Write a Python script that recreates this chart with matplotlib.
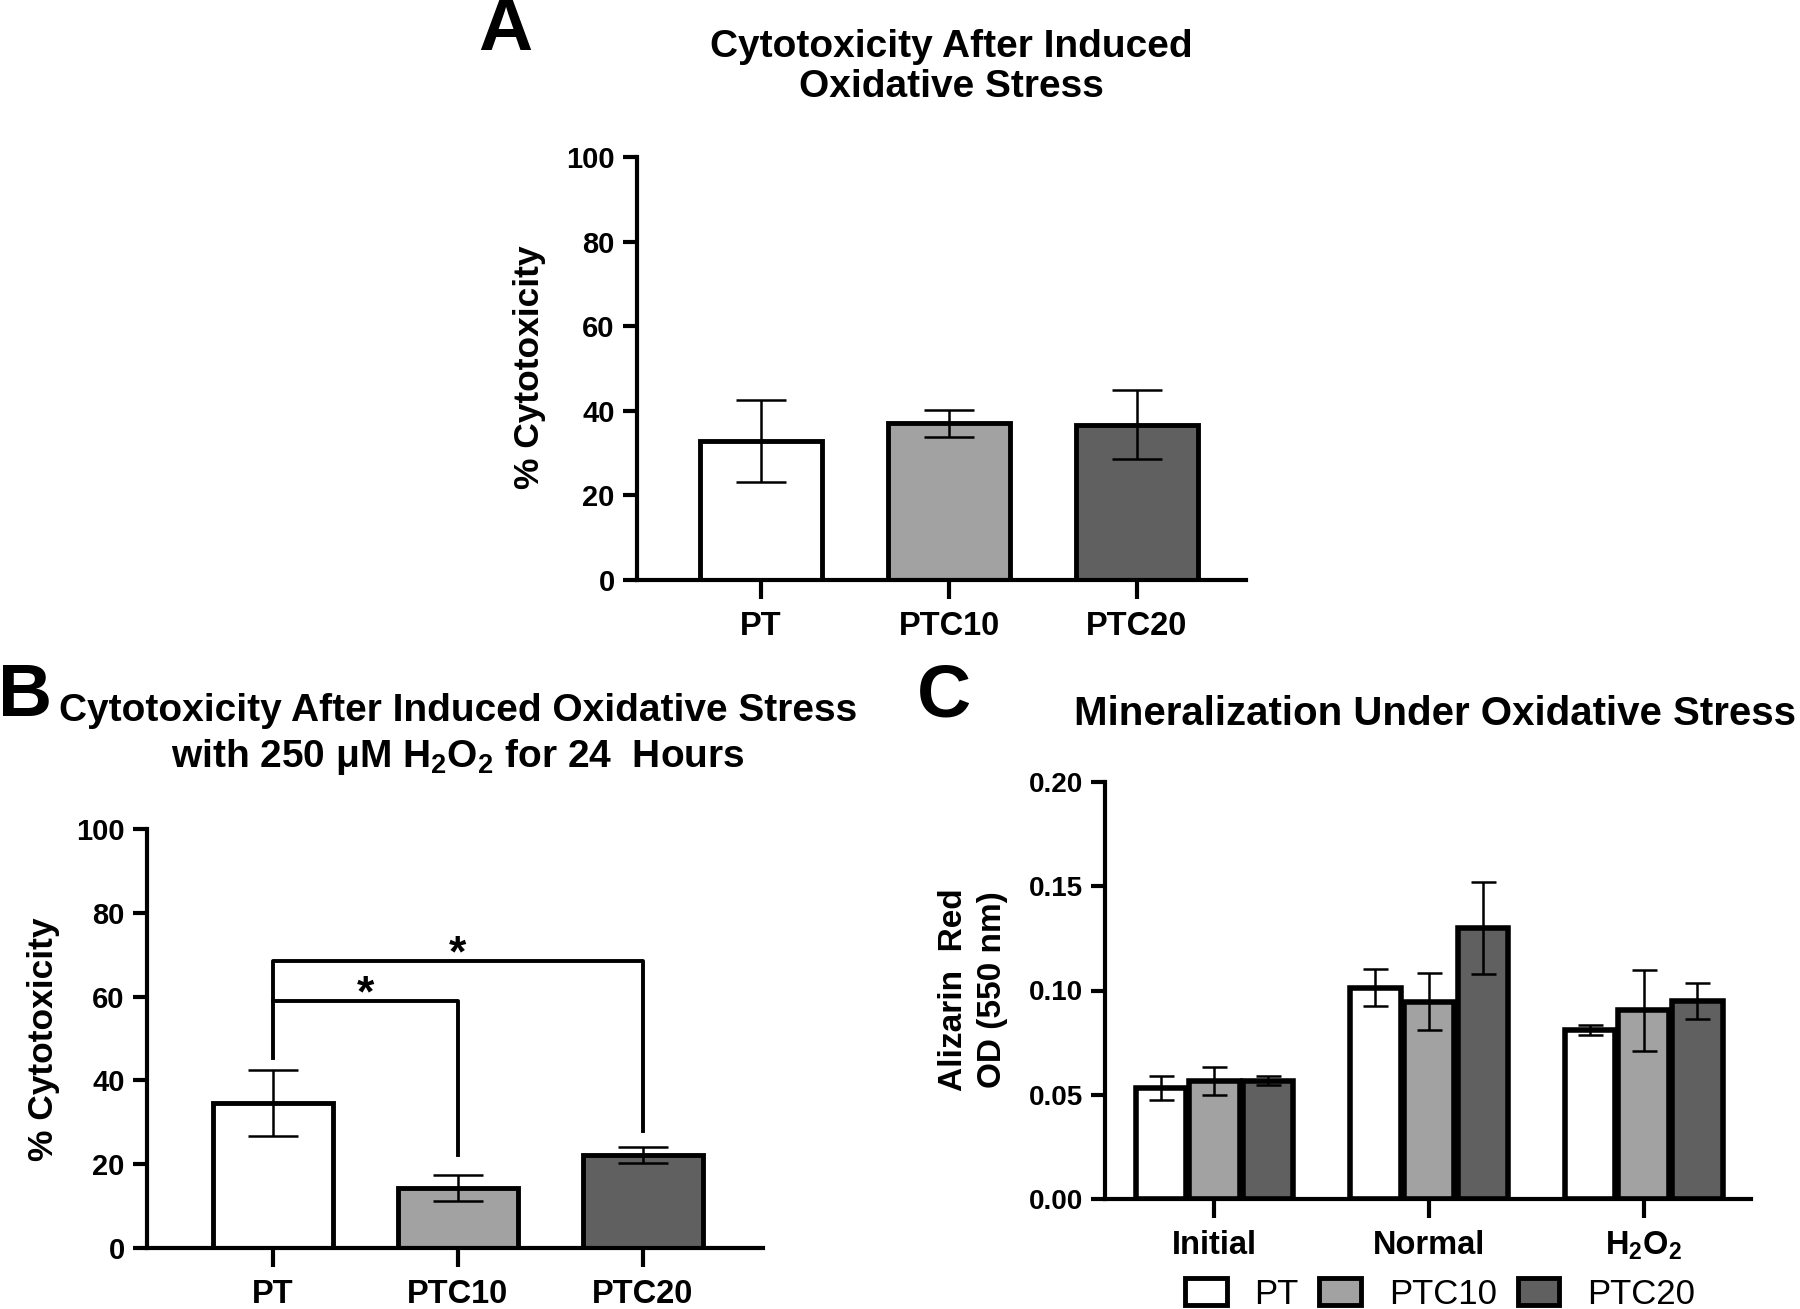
import numpy as np
import matplotlib
matplotlib.use("Agg")
import matplotlib.pyplot as plt
from matplotlib.patches import Patch

# data
groups = ["PT", "PTC10", "PTC20"]
colors = ["white", "#a2a2a2", "#606060"]

cyto_a = [32.8, 37.0, 36.7]
cyto_a_err = [9.7, 3.1, 8.1]

cyto_b = [34.6, 14.3, 22.1]
cyto_b_err = [7.8, 3.2, 1.9]

min_cats = ["Initial", "Normal", r"H$_\mathbf{2}$O$_\mathbf{2}$"]
min_pt = [0.0534, 0.1013, 0.0810]
min_pt_err = [0.0058, 0.0089, 0.0023]
min_ptc10 = [0.0568, 0.0947, 0.0905]
min_ptc10_err = [0.0067, 0.0137, 0.0193]
min_ptc20 = [0.0568, 0.1300, 0.0950]
min_ptc20_err = [0.0022, 0.0220, 0.0085]

fam = ["Liberation Sans", "DejaVu Sans"]
plt.rcParams["font.family"] = fam
plt.rcParams["font.weight"] = "bold"
plt.rcParams["mathtext.fontset"] = "custom"
plt.rcParams["mathtext.rm"] = "Liberation Sans:bold"
plt.rcParams["mathtext.bf"] = "Liberation Sans:bold"

W, H = 1800, 1309
fig = plt.figure(figsize=(W / 100, H / 100), dpi=100)


def px_axes(x0, x1, y0, y1):
    # pixel box (top-left origin) -> figure fraction
    return fig.add_axes([x0 / W, 1 - y1 / H, (x1 - x0) / W, (y1 - y0) / H])


def style(ax, ysize=21):
    for s in ["top", "right"]:
        ax.spines[s].set_visible(False)
    for s in ["left", "bottom"]:
        ax.spines[s].set_linewidth(3)
    ax.tick_params(width=3, length=10, labelsize=ysize, pad=6)
    ax.tick_params(axis="x", length=14, pad=8, labelsize=23.5)
    for lb in ax.get_xticklabels() + ax.get_yticklabels():
        lb.set_fontweight("bold")


ekw = dict(elinewidth=1.8, capthick=1.8, capsize=18, ecolor="black")

# ---- panel A
axA = px_axes(637, 1246, 157, 580)
x = np.arange(3)
axA.bar(x, cyto_a, width=0.65, color=colors, edgecolor="black", linewidth=3.5, zorder=2)
axA.errorbar(x, cyto_a, yerr=cyto_a_err, fmt="none", zorder=3, **ekw)
axA.set_xlim(-0.66, 2.58)
axA.set_ylim(0, 100)
axA.set_yticks([0, 20, 40, 60, 80, 100])
axA.set_xticks(x)
axA.set_xticklabels(groups)
style(axA)
fig.text(530 / W, 1 - 367 / H, "% Cytotoxicity", rotation=90, ha="center", va="center",
         fontsize=25.5, fontweight="bold")
fig.text(951 / W, 1 - 67 / H, "Cytotoxicity After Induced\nOxidative Stress", ha="center",
         va="center", fontsize=28, fontweight="bold", linespacing=1.15)
fig.text(505 / W, 1 - 31 / H, "A", ha="center", va="center", fontsize=54, fontweight="bold")

# ---- panel B
axB = px_axes(147, 763, 829, 1248)
axB.bar(x, cyto_b, width=0.65, color=colors, edgecolor="black", linewidth=3.5, zorder=2)
axB.errorbar(x, cyto_b, yerr=cyto_b_err, fmt="none", zorder=3, **ekw)
axB.set_xlim(-0.68, 2.65)
axB.set_ylim(0, 100)
axB.set_yticks([0, 20, 40, 60, 80, 100])
axB.set_xticks(x)
axB.set_xticklabels(groups)
style(axB)
# significance brackets
axB.plot([0, 0, 2, 2], [45.3, 68.5, 68.5, 28.0], color="black", lw=2.8, zorder=4)
axB.plot([0, 0, 1, 1], [58.9, 58.9, 58.9, 22.1], color="black", lw=2.8, zorder=4)
axB.text(1.0, 70.0, "*", ha="center", va="center", fontsize=32, fontweight="bold")
axB.text(0.5, 60.4, "*", ha="center", va="center", fontsize=32, fontweight="bold")
fig.text(44 / W, 1 - 1039 / H, "% Cytotoxicity", rotation=90, ha="center", va="center",
         fontsize=25.5, fontweight="bold")
fig.text(458 / W, 1 - 735 / H,
         "Cytotoxicity After Induced Oxidative Stress\nwith 250 \u03bcM H$_\\mathbf{2}$O$_\\mathbf{2}$ for 24  Hours",
         ha="center", va="center", fontsize=28, fontweight="bold", linespacing=1.25)
fig.text(25 / W, 1 - 697 / H, "B", ha="center", va="center", fontsize=54, fontweight="bold")

# ---- panel C
axC = px_axes(1105, 1751, 782, 1199)
bw = 0.235
off = 0.25
series = [(min_pt, min_pt_err), (min_ptc10, min_ptc10_err), (min_ptc20, min_ptc20_err)]
for i, (v, e) in enumerate(series):
    pos = x + (i - 1) * off
    axC.bar(pos, v, width=bw, color=colors[i], edgecolor="black", linewidth=4, zorder=2,
            label=groups[i])
    axC.errorbar(pos, v, yerr=e, fmt="none", zorder=3, elinewidth=1.8, capthick=1.8,
                 capsize=9, ecolor="black")
axC.set_xlim(-0.51, 2.5)
axC.set_ylim(0, 0.2)
axC.set_yticks([0, 0.05, 0.10, 0.15, 0.20])
axC.set_yticklabels(["0.00", "0.05", "0.10", "0.15", "0.20"])
axC.set_xticks(x)
axC.set_xticklabels(min_cats)
style(axC, ysize=20)
fig.text(973 / W, 1 - 990 / H, "Alizarin  Red\nOD (550 nm)", rotation=90, ha="center",
         va="center", fontsize=24, fontweight="bold", linespacing=1.3)
fig.text(1435 / W, 1 - 714 / H, "Mineralization Under Oxidative Stress", ha="center",
         va="center", fontsize=29, fontweight="bold")
fig.text(944 / W, 1 - 697 / H, "C", ha="center", va="center", fontsize=54, fontweight="bold")

handles = [Patch(facecolor=c, edgecolor="black", linewidth=3.5) for c in colors]
leg = fig.legend(handles, groups, loc="center", bbox_to_anchor=(1440 / W, 1 - 1294 / H),
                 ncol=3, frameon=False, fontsize=25, handlelength=1.2, handleheight=0.8,
                 columnspacing=0.6, handletextpad=0.8, borderaxespad=0, borderpad=0)
for t in leg.get_texts():
    t.set_fontweight("normal")

fig.savefig("out.png", dpi=100)
